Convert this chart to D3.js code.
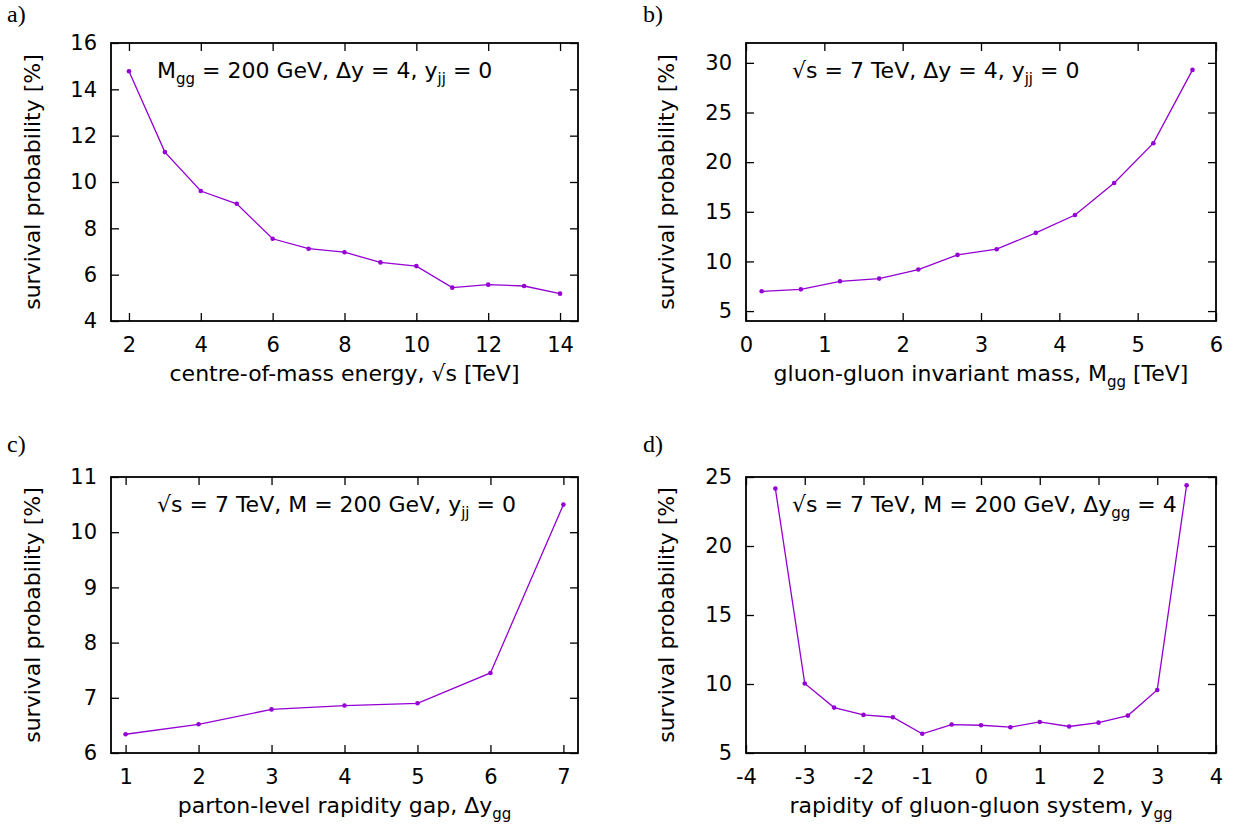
<!DOCTYPE html>
<html><head><meta charset="utf-8">
<script src="https://cdn.jsdelivr.net/npm/d3@7"></script>
<style>
body{margin:0;background:#fff;}
</style></head>
<body><svg id="c" width="1235" height="830"></svg>
<script>
// Panel a
const aX = [2,3,4,5,6,7,8,9,10,11,12,13,14];
const aY = [14.78,11.29,9.61,9.06,7.55,7.12,6.97,6.53,6.37,5.44,5.57,5.51,5.18];
const aXTicks = [2,4,6,8,10,12,14];
const aYTicks = [4,6,8,10,12,14,16];
// Panel b
const bX = [0.2,0.7,1.2,1.7,2.2,2.7,3.2,3.7,4.2,4.7,5.2,5.7];
const bY = [6.99,7.19,8.0,8.27,9.18,10.66,11.23,12.88,14.67,17.9,21.91,29.29];
const bXTicks = [0,1,2,3,4,5,6];
const bYTicks = [5,10,15,20,25,30];
// Panel c
const cX = [1,2,3,4,5,6,7];
const cY = [6.34,6.52,6.79,6.86,6.90,7.45,10.5];
const cXTicks = [1,2,3,4,5,6,7];
const cYTicks = [6,7,8,9,10,11];
// Panel d
const dX = [-3.5,-3,-2.5,-2,-1.5,-1,-0.5,0,0.5,1,1.5,2,2.5,3,3.5];
const dY = [24.16,10.04,8.29,7.76,7.59,6.39,7.06,7.01,6.87,7.25,6.92,7.2,7.71,9.57,24.4];
const dXTicks = [-4,-3,-2,-1,0,1,2,3,4];
const dYTicks = [5,10,15,20,25];

const svg = d3.select("#c");
const COLOR = "#9400d3";
const FS = 21, LFS = 22, SUB = 15;
const fmt = d => String(d);  // plain hyphen minus

function rich(t, parts){
  parts.forEach(p=>{
    const s = t.append("tspan").text(p.t);
    if(p.sub){ s.attr("font-size",SUB).attr("dy",6); }
    else if(p.up){ s.attr("dy",-6); }
  });
}

function panel(o){
  const g = svg.append("g").style("font-family","'DejaVu Sans', sans-serif");
  const x = d3.scaleLinear().domain(o.xd).range([o.l, o.r]);
  const y = d3.scaleLinear().domain(o.yd).range([o.b, o.t]);
  const tl = 8;
  g.append("g").attr("transform",`translate(0,${o.b})`)
    .call(d3.axisBottom(x).tickValues(o.xt).tickSize(-tl).tickPadding(16).tickFormat(fmt))
    .call(s=>{s.select(".domain").remove();s.selectAll("text").attr("font-size",FS).style("font-family","'DejaVu Sans'").attr("fill","#000");});
  g.append("g").attr("transform",`translate(0,${o.t})`)
    .call(d3.axisTop(x).tickValues(o.xt).tickSize(-tl).tickFormat(""))
    .call(s=>s.select(".domain").remove());
  g.append("g").attr("transform",`translate(${o.l},0)`)
    .call(d3.axisLeft(y).tickValues(o.yt).tickSize(-tl).tickPadding(14).tickFormat(fmt))
    .call(s=>{s.select(".domain").remove();s.selectAll("text").attr("font-size",FS).style("font-family","'DejaVu Sans'").attr("fill","#000");});
  g.append("g").attr("transform",`translate(${o.r},0)`)
    .call(d3.axisRight(y).tickValues(o.yt).tickSize(-tl).tickFormat(""))
    .call(s=>s.select(".domain").remove());
  g.selectAll(".tick line").attr("stroke","#000").attr("stroke-width",1.3);
  g.append("rect").attr("x",o.l).attr("y",o.t).attr("width",o.r-o.l).attr("height",o.b-o.t)
    .attr("fill","none").attr("stroke","#000").attr("stroke-width",1.8);
  const data = o.xs.map((v,i)=>[v,o.ys[i]]);
  g.append("path").datum(data).attr("fill","none").attr("stroke",COLOR).attr("stroke-width",1.3)
    .attr("d",d3.line().x(d=>x(d[0])).y(d=>y(d[1])));
  g.selectAll("circle.p").data(data).join("circle").attr("cx",d=>x(d[0])).attr("cy",d=>y(d[1]))
    .attr("r",2.3).attr("fill",COLOR);
  g.append("text").attr("transform",`translate(${o.yl},${(o.t+o.b)/2}) rotate(-90)`)
    .attr("text-anchor","middle").attr("font-size",LFS).text("survival probability [%]");
  const xl = g.append("text").attr("x",(o.l+o.r)/2).attr("y",o.b+60).attr("text-anchor","middle").attr("font-size",LFS);
  rich(xl, o.xlab);
  const an = g.append("text").attr("x",o.ax).attr("y",o.t+35).attr("font-size",LFS);
  rich(an, o.ann);
  g.append("text").attr("x",o.px).attr("y",o.py).attr("font-size",24)
    .style("font-family","'Liberation Serif', serif").text(o.letter);
}

panel({l:111,r:578,t:43,b:321,xd:[1.5,14.5],yd:[4,16],xt:aXTicks,yt:aYTicks,xs:aX,ys:aY,yl:40,
  xlab:[{t:"centre-of-mass energy, √s [TeV]"}],
  ann:[{t:"M"},{t:"gg",sub:1},{t:" = 200 GeV, Δy = 4, y",up:1},{t:"jj",sub:1},{t:" = 0",up:1}],ax:157,letter:"a)",px:7,py:22});
panel({l:746,r:1216,t:43,b:321,xd:[0,6],yd:[4,32],xt:bXTicks,yt:bYTicks,xs:bX,ys:bY,yl:674,
  xlab:[{t:"gluon-gluon invariant mass, M"},{t:"gg",sub:1},{t:" [TeV]",up:1}],
  ann:[{t:"√s = 7 TeV, Δy = 4, y"},{t:"jj",sub:1},{t:" = 0",up:1}],ax:792,letter:"b)",px:643,py:22});
panel({l:111,r:578,t:477,b:753,xd:[0.8,7.2],yd:[6,11],xt:cXTicks,yt:cYTicks,xs:cX,ys:cY,yl:40,
  xlab:[{t:"parton-level rapidity gap, Δy"},{t:"gg",sub:1}],
  ann:[{t:"√s = 7 TeV, M = 200 GeV, y"},{t:"jj",sub:1},{t:" = 0",up:1}],ax:157,letter:"c)",px:7,py:452});
panel({l:746,r:1216,t:477,b:753,xd:[-4,4],yd:[5,25],xt:dXTicks,yt:dYTicks,xs:dX,ys:dY,yl:674,
  xlab:[{t:"rapidity of gluon-gluon system, y"},{t:"gg",sub:1}],
  ann:[{t:"√s = 7 TeV, M = 200 GeV, Δy"},{t:"gg",sub:1},{t:" = 4",up:1}],ax:792,letter:"d)",px:643,py:452});
</script></body></html>
